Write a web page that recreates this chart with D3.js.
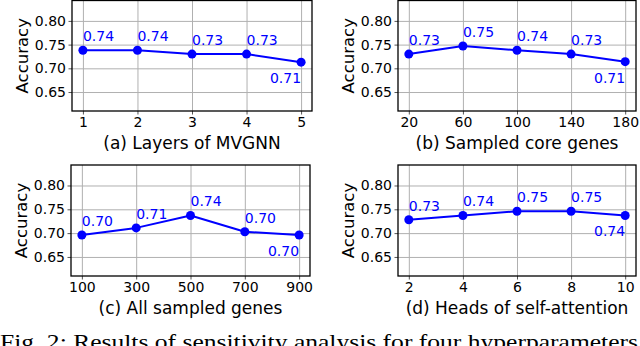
<!DOCTYPE html>
<html lang="en">
<head>
  <meta charset="UTF-8">
  <style>
    body { margin: 0; background: #fff; }
    svg { display: block; }
    .grid line { stroke: #b0b0b0; stroke-width: 1; }
    .grid path { display: none; }
    .axis path { display: none; }
    .axis line { stroke: #555; }
    .axis text { font-family: "DejaVu Sans", sans-serif; font-size: 14px; fill: #000; }
    .frame { fill: none; stroke: #000; stroke-width: 1.3; }
    .fn { stroke: #0000ff; stroke-width: 2; fill: none; stroke-linejoin: round; }
    .dot { fill: #0000ff; }
    .note { font-family: "DejaVu Sans", sans-serif; font-size: 14px; fill: #0000ff; }
    .ylab { font-family: "DejaVu Sans", sans-serif; font-size: 16.5px; }
    .xlab { font-family: "DejaVu Sans", sans-serif; font-size: 17px; }
    .caption { font-family: "Liberation Serif", serif; font-size: 21.5px; }
  </style>
</head>
<body>
  <svg id="chart" width="640" height="346"></svg>
  <script src="https://cdnjs.cloudflare.com/ajax/libs/d3/7.8.5/d3.min.js"></script>
  <script>
    // data
    const layersX = [1, 2, 3, 4, 5]
    const layersAcc = [0.738, 0.738, 0.730, 0.730, 0.713]
    const coreGenesX = [20, 60, 100, 140, 180]
    const coreGenesAcc = [0.730, 0.747, 0.738, 0.730, 0.714]
    const allGenesX = [100, 300, 500, 700, 900]
    const allGenesAcc = [0.696, 0.711, 0.737, 0.703, 0.696]
    const headsX = [2, 4, 6, 8, 10]
    const headsAcc = [0.728, 0.737, 0.746, 0.746, 0.737]
    const yTicks = [0.65, 0.70, 0.75, 0.80]
    const panelTitles = ['(a) Layers of MVGNN', '(b) Sampled core genes', '(c) All sampled genes', '(d) Heads of self-attention']
    const yTitle = 'Accuracy'
    const caption = 'Fig. 2: Results of sensitivity analysis for four hyperparameters'

    // panel boxes in pixels
    const panels = [
      { xs: layersX, ys: layersAcc, x0: 72, x1: 312, y0: 0.5, y1: 111 },
      { xs: coreGenesX, ys: coreGenesAcc, x0: 398, x1: 636, y0: 0.5, y1: 111 },
      { xs: allGenesX, ys: allGenesAcc, x0: 71, x1: 310, y0: 165, y1: 276 },
      { xs: headsX, ys: headsAcc, x0: 398, x1: 636, y0: 165, y1: 276 },
    ]
    const yDomain = [0.61, 0.843]
    const fmt = d3.format('.2f')

    const svg = d3.select('#chart')

    panels.forEach((p, i) => {
      const w = p.x1 - p.x0
      const h = p.y1 - p.y0
      const lo = d3.min(p.xs), hi = d3.max(p.xs)
      const pad = (hi - lo) * 0.05
      const x = d3.scaleLinear().domain([lo - pad, hi + pad]).range([0, w])
      const y = d3.scaleLinear().domain(yDomain).range([h, 0])

      const g = svg.append('g')
          .attr('transform', `translate(${p.x0}, ${p.y0})`)

      // grid
      g.append('g')
          .attr('class', 'grid')
          .attr('transform', `translate(0, ${h})`)
          .call(d3.axisBottom(x).tickValues(p.xs).tickSize(-h).tickFormat(''))
      g.append('g')
          .attr('class', 'grid')
          .call(d3.axisLeft(y).tickValues(yTicks).tickSize(-w).tickFormat(''))

      // axes
      g.append('g')
          .attr('class', 'axis')
          .attr('transform', `translate(0, ${h})`)
          .call(d3.axisBottom(x).tickValues(p.xs).tickSize(3.5).tickPadding(3).tickFormat(d3.format('d')))
      g.append('g')
          .attr('class', 'axis')
          .call(d3.axisLeft(y).tickValues(yTicks).tickSize(3.5).tickPadding(2.5).tickFormat(fmt))
      g.selectAll('.axis text').attr('font-size', null).attr('font-family', null)

      g.append('rect')
          .attr('class', 'frame')
          .attr('width', w)
          .attr('height', h)

      // line + markers
      const pts = p.xs.map((v, k) => ({ x: v, y: p.ys[k] }))
      const line = d3.line().x(d => x(d.x)).y(d => y(d.y))
      g.append('path')
          .datum(pts)
          .attr('class', 'fn')
          .attr('d', line)
      g.selectAll('.dot')
          .data(pts)
        .enter().append('circle')
          .attr('class', 'dot')
          .attr('cx', d => x(d.x))
          .attr('cy', d => y(d.y))
          .attr('r', 4.5)

      // value labels: above-right, last one below-left
      g.selectAll('.note')
          .data(pts)
        .enter().append('text')
          .attr('class', 'note')
          .attr('x', d => x(d.x))
          .attr('y', (d, k) => y(d.y) + (k === pts.length - 1 ? 21 : -9))
          .attr('text-anchor', (d, k) => k === pts.length - 1 ? 'end' : 'start')
          .text(d => fmt(d.y))

      // titles
      g.append('text')
          .attr('class', 'ylab')
          .attr('transform', `translate(-44, ${h / 2}) rotate(-90)`)
          .attr('text-anchor', 'middle')
          .text(yTitle)
      g.append('text')
          .attr('class', 'xlab')
          .attr('x', w / 2)
          .attr('y', h + 38)
          .attr('text-anchor', 'middle')
          .text(panelTitles[i])
    })

    svg.append('text')
        .attr('class', 'caption')
        .attr('x', 0)
        .attr('y', 349)
        .attr('textLength', 638)
        .attr('lengthAdjust', 'spacingAndGlyphs')
        .text(caption)
  </script>
</body>
</html>
